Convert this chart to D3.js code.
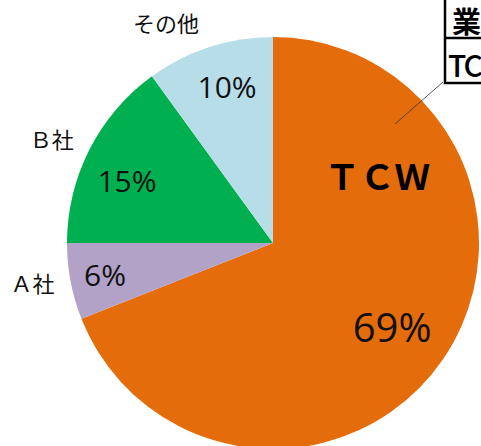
<!DOCTYPE html>
<html>
<head>
<meta charset="utf-8">
<script src="https://cdn.jsdelivr.net/npm/d3@7"></script>
<style>
  body { margin: 0; background: #fff; }
  svg { display: block; }
</style>
</head>
<body>
<div id="chart"></div>
<script>
// Market share pie

const categories = ["ＴＣＷ", "Ａ社", "Ｂ社", "その他"];
const shares = [69, 6, 15, 10];
const colors = ["#E46C0A", "#B3A2C7", "#00B050", "#B7DEE8"];

const width = 481,
    height = 446;

const cx = 273, cy = 243, radius = 206;

let svg = d3.select("#chart")
    .append("svg")
    .attr("width", width)
    .attr("height", height);

let color = d3.scaleOrdinal()
    .domain(categories)
    .range(colors);

let pie = d3.pie()
    .sort(null)
    .value(d => d.value);

let arcs = pie(categories.map((c, i) => ({cat: c, value: shares[i]})));

let arc = d3.arc()
    .innerRadius(0)
    .outerRadius(radius);

let g = svg.append("g")
    .attr("transform", `translate(${cx},${cy})`);

// slices
g.selectAll(".slice")
    .data(arcs)
    .join("path")
    .attr("class", "slice")
    .attr("d", arc)
    .attr("fill", d => color(d.data.cat));

// helper: point at radius r, mid angle of slice shifted by deg
function place(d, r, deg) {
    let a = (d.startAngle + d.endAngle) / 2 + deg * Math.PI / 180;
    return [r * Math.sin(a), -r * Math.cos(a)];
}

// percentage labels: radius fraction and angle shift per slice
const pctRadius = [0.71, 0.83, 0.77, 0.79];
const pctShift = [1.3, 0, -4, 1.6];
const pctSize = [40, 30, 30, 30];

g.selectAll(".pct")
    .data(arcs)
    .join("text")
    .attr("class", "pct")
    .attr("transform", (d, i) => {
        let p = place(d, radius * pctRadius[i], pctShift[i]);
        return `translate(${p[0]},${p[1]})`;
    })
    .attr("text-anchor", "middle")
    .attr("dy", "0.36em")
    .style("font-family", "'Open Sans', sans-serif")
    .style("font-weight", "500")
    .style("font-size", (d, i) => pctSize[i] + "px")
    .style("fill", "#111")
    .text(d => d.data.value + "%");

// outside category labels (small slices)
const labelShift = [0, 1, -2, -8];
const outerR = 244;

g.selectAll(".cat")
    .data(arcs.slice(1))
    .join("text")
    .attr("class", "cat")
    .attr("transform", (d, i) => {
        let p = place(d, outerR, labelShift[i + 1]);
        return `translate(${p[0]},${p[1]})`;
    })
    .attr("text-anchor", "middle")
    .attr("dy", "0.36em")
    .style("font-family", "'Noto Sans CJK JP', sans-serif")
    .style("font-size", "22px")
    .style("fill", "#111")
    .text(d => d.data.cat);

// big slice name inside
let tcw = arcs[0];
let tr = 123, ta = 58 * Math.PI / 180;
g.append("text")
    .attr("x", tr * Math.sin(ta))
    .attr("y", -tr * Math.cos(ta))
    .attr("text-anchor", "middle")
    .attr("dy", "0.36em")
    .style("font-family", "'Noto Sans CJK JP', sans-serif")
    .style("font-weight", "bold")
    .style("font-size", "35px")
    .style("fill", "#000")
    .text(tcw.data.cat);

// leader line to the table box
svg.append("line")
    .attr("x1", 395).attr("y1", 124)
    .attr("x2", 443).attr("y2", 82)
    .attr("stroke", "#333")
    .attr("stroke-width", 0.8);

// table box (cut off at right edge)
let box = svg.append("g");
box.append("rect")
    .attr("x", 445).attr("y", -2)
    .attr("width", 60).attr("height", 85)
    .attr("fill", "#fff")
    .attr("stroke", "#000")
    .attr("stroke-width", 2.5);
box.append("line")
    .attr("x1", 445).attr("x2", 505)
    .attr("y1", 38).attr("y2", 38)
    .attr("stroke", "#000")
    .attr("stroke-width", 2.5);
box.append("text")
    .attr("x", 452).attr("y", 33)
    .style("font-family", "'Noto Sans CJK JP', sans-serif")
    .style("font-weight", "bold")
    .style("font-size", "29px")
    .text("業界シェア");
box.append("text")
    .attr("x", 448).attr("y", 77)
    .style("font-family", "'Noto Sans CJK JP', sans-serif")
    .style("font-weight", "500")
    .style("font-size", "30px")
    .attr("textLength", 35)
    .text("TC");
</script>
</body>
</html>
